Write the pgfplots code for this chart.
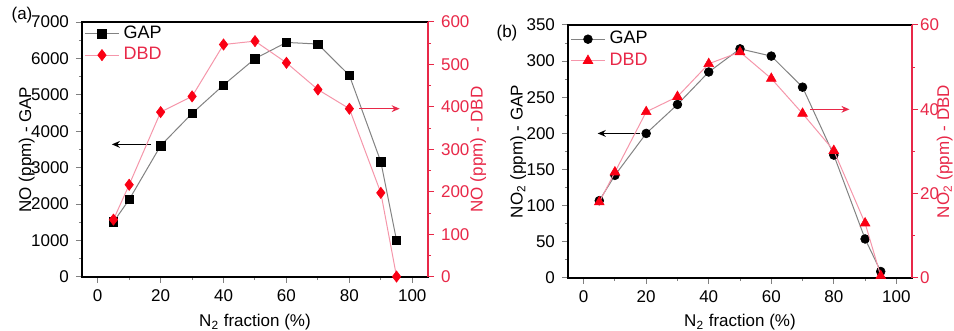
\documentclass[border=0pt]{standalone}
\usepackage{fontspec}
\setmainfont{Liberation Sans}
\usepackage{pgfplots}
\pgfplotsset{compat=1.18}
\usetikzlibrary{arrows.meta}
\definecolor{axred}{RGB}{232,40,72}
\definecolor{mkred}{RGB}{250,0,20}
\definecolor{lnred}{RGB}{245,150,170}
\definecolor{lngray}{RGB}{130,130,130}
\pgfplotsset{
  base/.style={
    scale only axis, anchor=south west,
    xmin=-5, xmax=105, xtick={0,20,...,100}, minor x tick num=1,
    tick align=outside, minor tick length=1.6pt, major tick length=3pt,
    font=\fontsize{8.5}{10}\selectfont,
    /pgf/number format/assume math mode=true,
    /pgf/number format/1000 sep={},
    tick style={line width=0.5pt},
    axis line style={line width=0.6pt},
    minor y tick num=1,
    clip=false,
  },
  gap/.style={color=lngray, line width=0.5pt, mark options={draw=black, fill=black, line width=0.3pt}},
  dbd/.style={color=lnred, line width=0.5pt, mark options={draw=mkred, fill=mkred, line width=0.3pt}},
}
\begin{document}
\begin{tikzpicture}
\useasboundingbox (0,0) rectangle (477pt,165.5pt);
% ---------- panel (a) ----------
\begin{axis}[base, at={(41pt,27pt)}, width=173pt, height=127.5pt,
  ymin=0, ymax=7000, ytick={0,1000,...,7000},
  xtick pos=bottom, ytick pos=left,
  xlabel={N\textsubscript{2} fraction (\%)},
  xlabel style={at={(axis description cs:0.5,-0.176)}, anchor=center},
  ylabel={NO (ppm) - GAP},
  ylabel style={at={(axis description cs:-0.16,0.5)}, anchor=center},
  legend style={at={(rel axis cs:0.0,1.01)}, anchor=north west, draw=none, fill=none,
    font=\fontsize{9}{10}\selectfont, row sep=-1pt, inner sep=1pt},
  legend cell align=left]
\addplot[gap, mark=square*, mark size=2.1pt] coordinates {
(5,1510) (10,2125) (20,3605) (30,4490) (40,5270) (50,5995) (60,6440) (70,6395) (80,5535) (90,3165) (95,1005)};
\addlegendentry{GAP}
\addlegendimage{dbd, mark=diamond*, mark size=2.8pt}
\addlegendentry[text=axred]{DBD}
\draw[-{Stealth[length=4pt,width=3.4pt]}, line width=0.8pt, black] (axis cs:17,3640) -- (axis cs:4.5,3640);
\end{axis}
\begin{axis}[base, at={(41pt,27pt)}, width=173pt, height=127.5pt,
  ymin=0, ymax=600, ytick={0,100,...,600},
  axis y line*=right, axis x line=none,
  y axis line style={axred}, ytick style={axred}, yticklabel style={axred},
  ylabel={NO (ppm) - DBD}, ylabel style={axred, at={(axis description cs:1.145,0.5)}, anchor=center, rotate=0}]
\addplot[dbd, mark=diamond*, mark size=2.8pt] coordinates {
(5,135) (10,217) (20,388) (30,425) (40,547) (50,555) (60,504) (70,441) (80,396) (90,198) (95,1)};
\draw[-{Stealth[length=4pt,width=3.4pt]}, line width=0.8pt, axred] (axis cs:83,396) -- (axis cs:96,396);
\end{axis}
% ---------- panel (b) ----------
\begin{axis}[base, at={(284pt,26.5pt)}, width=172pt, height=126.5pt,
  ymin=0, ymax=350, ytick={0,50,...,350},
  xtick pos=bottom, ytick pos=left,
  xlabel={N\textsubscript{2} fraction (\%)},
  xlabel style={at={(axis description cs:0.5,-0.174)}, anchor=center},
  ylabel={NO\textsubscript{2} (ppm) - GAP},
  ylabel style={at={(axis description cs:-0.145,0.5)}, anchor=center},
  legend style={at={(rel axis cs:0.0,1.0)}, anchor=north west, draw=none, fill=none,
    font=\fontsize{9}{10}\selectfont, row sep=-1pt, inner sep=1pt},
  legend cell align=left]
\addplot[gap, mark=*, mark size=2.2pt] coordinates {
(5,107) (10,142) (20,200) (30,240) (40,285) (50,317) (60,307) (70,264) (80,170) (90,54) (95,9)};
\addlegendentry{GAP}
\addlegendimage{dbd, mark=triangle*, mark size=2.8pt}
\addlegendentry[text=axred]{DBD}
\draw[-{Stealth[length=4pt,width=3.4pt]}, line width=0.8pt, black] (axis cs:18,200) -- (axis cs:4.5,200);
\end{axis}
\begin{axis}[base, at={(284pt,26.5pt)}, width=172pt, height=126.5pt,
  ymin=0, ymax=60, ytick={0,20,40,60},
  axis y line*=right, axis x line=none,
  y axis line style={axred}, ytick style={axred}, yticklabel style={axred, xshift=-2.5pt},
  ylabel={NO\textsubscript{2} (ppm) - DBD}, ylabel style={axred, at={(axis description cs:1.095,0.5)}, anchor=center, rotate=0, inner sep=0pt}]
\addplot[dbd, mark=triangle*, mark size=2.8pt] coordinates {
(5,18) (10,25.1) (20,39.4) (30,43) (40,50.8) (50,53.6) (60,47.3) (70,39) (80,30.2) (90,13) (95,0.5)};
\draw[-{Stealth[length=4pt,width=3.4pt]}, line width=0.8pt, axred] (axis cs:72.5,40) -- (axis cs:85,40);
\end{axis}
\node[font=\fontsize{8.5}{10}\selectfont] at (11pt,158pt) {(a)};
\node[font=\fontsize{8.5}{10}\selectfont] at (253.5pt,149pt) {(b)};
\end{tikzpicture}
\end{document}
